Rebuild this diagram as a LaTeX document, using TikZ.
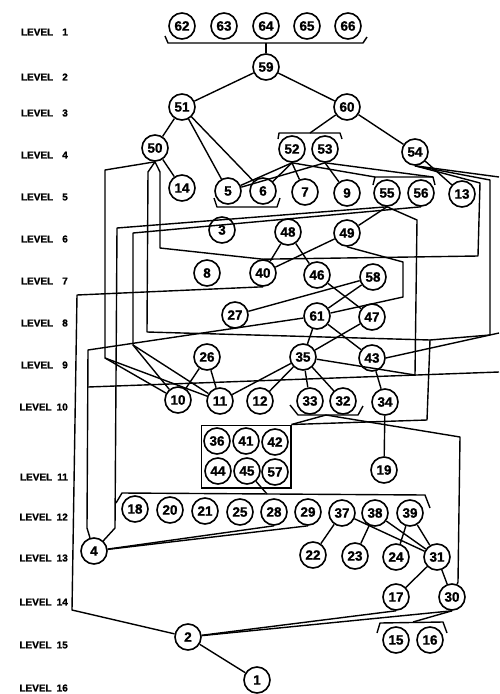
\documentclass[tikz,border=0pt]{standalone}
\usepackage{fontspec}
\setmainfont{Liberation Sans}
\newfontfamily\heavyfont{Liberation Sans Bold}[FakeBold=1.2]
\usetikzlibrary{positioning,calc,fit}

\begin{document}
\begin{tikzpicture}[x=1pt,y=-1pt,
    nd/.style={circle,draw,line width=1.6pt,minimum size=26pt,inner sep=0pt,
               font=\fontsize{13.5}{13.5}\heavyfont},
    ln/.style={line width=1.4pt,line join=round},
    lvl/.style={anchor=east,inner sep=0pt,font=\fontsize{10}{10}\heavyfont}]
  \fill[white] (0,0) rectangle (499,694);
  \useasboundingbox (0,0) rectangle (499,694);

  % level labels
  \foreach \n/\ly in {1/32,2/77,3/113,4/155,5/197,6/239,7/281,8/323,9/365,
                      10/407,11/477,12/517,13/558,14/602,15/645,16/688}
    \node[lvl] (lv\n) at (68,\ly) {LEVEL\hspace{\ifnum\n<10 9pt\else 5pt\fi}\n};

  % elements
  \foreach \n/\px/\py in {62/182/26,63/224/26,64/266/26,65/307/26,66/348/26,
      59/266/67,51/182/107,60/347/107,
      50/155/148,52/292/149,53/325/149,54/415/152,
      14/182/188,5/228/191,6/263/191,7/305/192,9/347/193,55/387/193,56/421/193,13/462/194,
      3/222/230,48/288/232,49/347/233,
      8/207/273,40/263/273,46/317/275,58/373/277,
      27/235/315,61/317/316,47/372/317,
      26/207/357,35/303/357,43/372/358,
      10/178/400,11/220/401,12/260/401,33/310/401,32/343/401,34/385/402,
      36/217/441,41/246/441,42/275/442,44/218/471,45/247/471,57/275/472,19/384/470,
      18/135/509,20/170/510,21/205/511,25/240/512,28/274/512,29/308/512,
      37/342/513,38/375/513,39/410/513,
      4/94/551,22/313/555,23/355/556,24/396/557,31/437/557,
      17/396/597,30/452/597,2/188/637,15/396/640,16/430/640,1/257/680}
    \node[nd] (n\n) at (\px,\py) {\n};
  \node[draw,line width=1.4pt,inner sep=2pt,fit=(n36)(n57)] (box) {};

  % brackets
  \draw[ln] (165,36) -- (168,43) -- (363,43) -- (367,37);
  \draw[ln] (278,139) -- (279,133) -- (340,133) -- (342,139);
  \draw[ln] (214,198) -- (217,207) -- (277,207) -- (280,198);
  \draw[ln] (373,185) -- (375,177) -- (433,177) -- (435,185);
  \draw[ln] (290,405) -- (298,415) -- (358,415) -- (363,406);
  \draw[ln] (116,503) -- (122,493) -- (425,495) -- (430,508);
  \draw[ln] (377,633) -- (380,623) -- (443,622) -- (447,633);
  \coordinate (b1) at (266,43);
  \coordinate (b2) at (310,133);
  \coordinate (b3) at (326,415);
  \coordinate (b4) at (267,494);
  \coordinate (b5) at (413,622);

  % levels 1-5
  \draw[ln] (b1) -- (n59);
  \draw[ln] (n59) -- (n51);
  \draw[ln] (n59) -- (n60);
  \draw[ln] (n51) -- (n50);
  \draw[ln] (n51) -- (n5);
  \draw[ln] (n51) -- (n6);
  \draw[ln] (n60) -- (b2);
  \draw[ln] (n60) -- (n54);
  \draw[ln] (n50) -- (n14);
  \draw[ln] (n52.south) -- (n5);
  \draw[ln] (n52.south) -- (n6);
  \draw[ln] (n52.south) -- (n7);
  \draw[ln] (n52.south) -- (375,177);
  \draw[ln] (n53.south) -- (n5);
  \draw[ln] (n53.south) -- (n9);
  \draw[ln] (n53.south) -- (433,177);
  \draw[ln] (n54) -- (n13);
  \draw[ln] (n54.south) -- (499,177);

  % long routes
  \draw[ln] (n50.south) -- (105,170) -- (105,358) -- (n10);
  \draw[ln] (105,358) -- (n11);
  \draw[ln] (n50.south) -- (148,172) -- (147,332) -- (430,340);
  \draw[ln] (n50.south) -- (160,172) -- (160,248) -- (n40.north);
  \draw[ln] (n54.south) -- (480,183) -- (478,256) -- (n40.north);
  \draw[ln] (n54.south) -- (490,180) -- (490,335) -- (430,340);
  \draw[ln] (430,340) -- (427,420) -- (box.north east);
  \draw[ln] (n55.south) -- (117,228) -- (115,528) -- (n4);
  \draw[ln] (n56.south) -- (133,233) -- (133,345) -- (n10);
  \draw[ln] (133,345) -- (n11);
  \draw[ln] (n55.south) -- (417,220) -- (415,375) -- (n35);
  \draw[ln] (n40.south) -- (77,295) -- (72,610) -- (n2);
  \draw[ln] (n61) -- (88,350) -- (87,528) -- (n4);
  \draw[ln] (88,387) -- (499,372);

  % levels 6-10
  \draw[ln] (n55.south) -- (n49);
  \draw[ln] (n48) -- (n40);
  \draw[ln] (n48) -- (n46);
  \draw[ln] (n49) -- (n40);
  \draw[ln] (n49.south) -- (403,262) -- (403,297) -- (n61);
  \draw[ln] (n46) -- (n47);
  \draw[ln] (n58) -- (n61);
  \draw[ln] (n58) -- (n27);
  \draw[ln] (n61) -- (n35);
  \draw[ln] (n61) -- (n43);
  \draw[ln] (n47) -- (n35);
  \draw[ln] (n26) -- (n10);
  \draw[ln] (n26) -- (n11);
  \draw[ln] (n35) -- (n11);
  \draw[ln] (n35) -- (n12);
  \draw[ln] (n35) -- (n33);
  \draw[ln] (n35) -- (n32);
  \draw[ln] (n43) -- (n34);
  \draw[ln] (n43.east) -- (499,333);

  % levels 10-16
  \draw[ln] (n34) -- (n19);
  \draw[ln] (b3) -- (box.north east);
  \draw[ln] (b3) -- (460,437) -- (458,582) -- (n30);
  \draw[ln] (n45) -- (b4);
  \draw[ln] (n4) -- (n28.south);
  \draw[ln] (n4) -- (n29.south);
  \draw[ln] (n37) -- (n22);
  \draw[ln] (n37) -- (n31);
  \draw[ln] (n38) -- (n23);
  \draw[ln] (n38) -- (n31);
  \draw[ln] (n39) -- (n24);
  \draw[ln] (n39) -- (n31);
  \draw[ln] (n31) -- (n17);
  \draw[ln] (n31) -- (n30);
  \draw[ln] (n2) -- (n17.south);
  \draw[ln] (n2) -- (n30.south);
  \draw[ln] (n30.south) -- (b5);
  \draw[ln] (n2) -- (n1);
\end{tikzpicture}
\end{document}
